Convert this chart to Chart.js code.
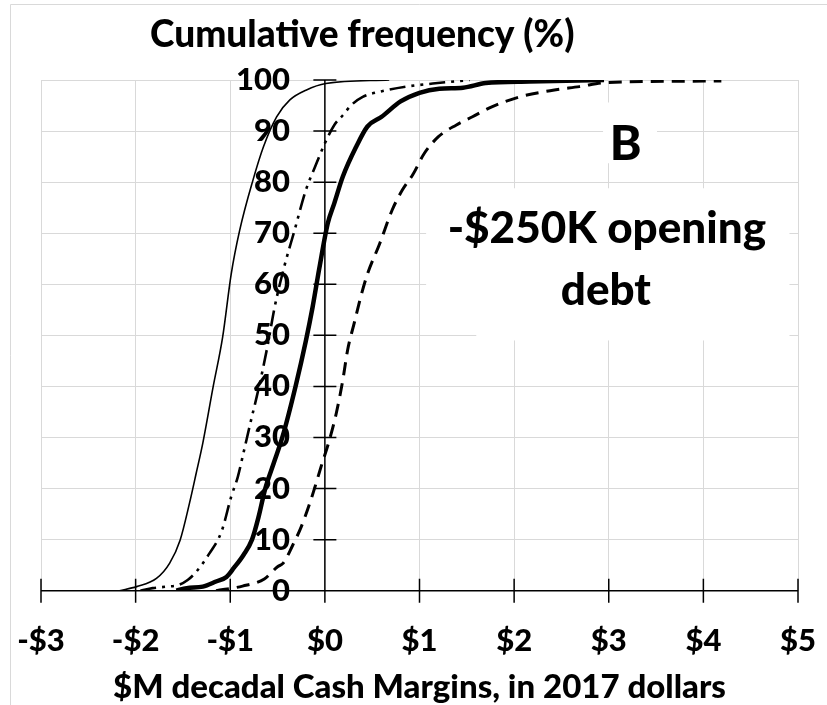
<!DOCTYPE html>
<html>
<head>
<meta charset="utf-8">
<script src="https://cdn.jsdelivr.net/npm/chart.js@4/dist/chart.umd.min.js"></script>
<style>
  html, body { margin: 0; padding: 0; background: #ffffff; }
  #wrap { width: 827px; height: 705px; position: relative; }
</style>
</head>
<body>
<div id="wrap"><canvas id="c" width="827" height="705"></canvas></div>
<script>
// ---- data ----
const xTickValues = [-3, -2, -1, 0, 1, 2, 3, 4, 5];
const xTickLabels = ['-$3', '-$2', '-$1', '$0', '$1', '$2', '$3', '$4', '$5'];
const yTickValues = [0, 10, 20, 30, 40, 50, 60, 70, 80, 90, 100];
const yTickLabels = ['0', '10', '20', '30', '40', '50', '60', '70', '80', '90', '100'];

const chartTitle = 'Cumulative frequency (%)';
const xAxisTitle = '$M decadal Cash Margins, in 2017 dollars';
const panelLabel = 'B';
const panelNote = ['-$250K opening', 'debt'];

// thin solid series
const thinX = [-2.17, -1.99, -1.78, -1.64, -1.53, -1.43, -1.36, -1.29, -1.18, -1.08, -0.99, -0.90, -0.76, -0.65, -0.51, -0.37, -0.20, 0.01, 0.68];
const thinY = [0, 0.8, 2.4, 5.4, 9.9, 17.2, 23, 28.9, 40, 49.7, 62, 70.6, 80.4, 86.9, 92.8, 96.1, 98, 99.3, 100];

// dash-dot-dot series
const dashDotX = [-1.95, -1.82, -1.67, -1.55, -1.45, -1.36, -1.22, -1.09, -0.99, -0.92, -0.86, -0.78, -0.72, -0.66, -0.60, -0.53, -0.43, -0.32, -0.20, -0.11, 0.00, 0.10, 0.19, 0.28, 0.40, 0.58, 0.86, 1.14, 1.53];
const dashDotY = [0, 0.5, 0.8, 1.1, 2.1, 3.7, 7.3, 11.7, 18.4, 22.3, 27, 33.4, 38, 43, 48.5, 55.6, 63.4, 70.6, 78.5, 82.7, 87.6, 91.2, 93.1, 95.1, 96.7, 97.7, 98.7, 99.3, 100];

// thick solid series
const thickX = [-1.57, -1.46, -1.29, -1.15, -1.04, -0.96, -0.86, -0.77, -0.70, -0.63, -0.54, -0.45, -0.31, -0.20, -0.13, -0.06, 0.03, 0.10, 0.19, 0.33, 0.45, 0.60, 0.80, 1.00, 1.21, 1.46, 1.70, 2.16, 2.95];
const thickY = [0, 0.5, 0.8, 1.8, 2.7, 4.5, 7, 10, 14.5, 20, 25, 30, 40, 49, 55.5, 63, 71.9, 75.9, 81.1, 86.9, 90.9, 92.8, 95.8, 97.5, 98.3, 98.5, 99.4, 99.7, 100];

// dashed series
const dashedX = [-1.15, -0.87, -0.64, -0.50, -0.44, -0.34, -0.25, -0.16, -0.11, -0.04, 0.04, 0.12, 0.19, 0.24, 0.31, 0.38, 0.45, 0.58, 0.71, 0.82, 0.93, 1.05, 1.20, 1.39, 1.56, 1.77, 2.06, 2.41, 2.69, 2.97, 4.19];
const dashedY = [0, 0.9, 2.3, 4.7, 5.4, 8.9, 12.5, 17.1, 20, 24.3, 29, 34.7, 41.3, 47.1, 52.4, 57.6, 62, 68, 74.5, 78.5, 81.5, 85.6, 88.9, 91.2, 92.8, 94.8, 96.7, 98, 98.7, 99.5, 99.8];

// ---- build ----
const pts = (xs, ys) => xs.map((x, i) => ({ x: x, y: ys[i] }));
const FONT = 'Lato, "Open Sans", sans-serif';
const W = '900';

const decorPlugin = {
  id: 'decor',
  beforeDraw(chart) {
    const ctx = chart.ctx;
    ctx.save();
    ctx.strokeStyle = '#d9d9d9';
    ctx.lineWidth = 1;
    ctx.beginPath();
    ctx.moveTo(10.5, 710);
    ctx.lineTo(10.5, 4.5);
    ctx.lineTo(830, 4.5);
    ctx.stroke();
    ctx.restore();
  },
  beforeDatasetsDraw(chart) {
    const ctx = chart.ctx;
    const xs = chart.scales.x, ys = chart.scales.y;
    const px = v => xs.getPixelForValue(v);
    const py = v => ys.getPixelForValue(v);
    ctx.save();
    // white text boxes hiding the grid
    ctx.fillStyle = '#ffffff';
    const box = (x0, x1, y0, y1) => ctx.fillRect(px(x0), py(y1), px(x1) - px(x0), py(y0) - py(y1));
    box(2.94, 3.51, 83.7, 95.6);
    box(1.07, 4.91, 52, 78.8);
    box(1.6, 4.91, 49, 52.5);

    // axes crossing at zero, with ticks crossing the axis
    ctx.strokeStyle = '#000000';
    ctx.lineWidth = 1.5;
    ctx.beginPath();
    const x0 = px(0), y0 = py(0);
    ctx.moveTo(px(xTickValues[0]), y0);
    ctx.lineTo(px(xTickValues[xTickValues.length - 1]), y0);
    xTickValues.forEach(v => { ctx.moveTo(px(v), y0 - 12); ctx.lineTo(px(v), y0 + 12); });
    ctx.moveTo(x0, py(yTickValues[0]));
    ctx.lineTo(x0, py(yTickValues[yTickValues.length - 1]));
    yTickValues.forEach(v => { ctx.moveTo(x0 - 11.5, py(v)); ctx.lineTo(x0 + 11.5, py(v)); });
    ctx.stroke();

    // annotations
    ctx.fillStyle = '#000000';
    ctx.textAlign = 'center';
    ctx.textBaseline = 'alphabetic';
    ctx.font = W + ' 48px ' + FONT;
    ctx.fillText(panelLabel, px(3.18), py(84.3));
    ctx.font = W + ' 44px ' + FONT;
    ctx.fillText(panelNote[0], px(2.98), py(68.1));
    ctx.fillText(panelNote[1], px(2.97), py(55.9));

    // chart title
    ctx.font = W + ' 37px ' + FONT;
    ctx.fillText(chartTitle, px(0.395), chart.chartArea.top - 33);
    ctx.restore();
  }
};

new Chart(document.getElementById('c'), {
  type: 'line',
  data: {
    datasets: [
      { label: 'thin', data: pts(thinX, thinY), borderColor: '#000', borderWidth: 1.6, pointRadius: 0, fill: false, cubicInterpolationMode: 'monotone' },
      { label: 'dashdot', data: pts(dashDotX, dashDotY), borderColor: '#000', borderWidth: 2.6, borderDash: [16, 6, 3, 6, 3, 6], pointRadius: 0, fill: false, cubicInterpolationMode: 'monotone' },
      { label: 'thick', data: pts(thickX, thickY), borderColor: '#000', borderWidth: 4.5, pointRadius: 0, fill: false, cubicInterpolationMode: 'monotone' },
      { label: 'dashed', data: pts(dashedX, dashedY), borderColor: '#000', borderWidth: 3, borderDash: [13, 8], pointRadius: 0, fill: false, cubicInterpolationMode: 'monotone' }
    ]
  },
  options: {
    responsive: false,
    animation: false,
    devicePixelRatio: 1,
    layout: { padding: { left: 41, right: 29, top: 80, bottom: 0 } },
    plugins: { legend: { display: false }, title: { display: false }, tooltip: { enabled: false } },
    scales: {
      x: {
        type: 'linear',
        position: 'bottom',
        min: -3, max: 5,
        afterBuildTicks: s => { s.ticks = xTickValues.map(v => ({ value: v })); },
        afterFit: s => { s.paddingLeft = 0; s.paddingRight = 0; s.height = 114.3; },
        grid: { color: '#d9d9d9', lineWidth: 1, drawTicks: false, tickLength: 0 },
        border: { display: false },
        ticks: {
          padding: 32,
          color: '#000',
          font: { family: FONT, size: 31, weight: W, lineHeight: 1.2 },
          callback: (v) => { const i = xTickValues.indexOf(v); return i >= 0 ? xTickLabels[i] : ''; }
        },
        title: {
          display: true, text: xAxisTitle, color: '#000',
          font: { family: FONT, size: 33, weight: W, lineHeight: 1.0 },
          padding: { top: 0, bottom: 1 }
        }
      },
      y: {
        type: 'linear',
        position: { x: -0.37 },
        min: 0, max: 100,
        afterBuildTicks: s => { s.ticks = yTickValues.map(v => ({ value: v })); },
        afterFit: s => { s.paddingTop = 0; s.paddingBottom = 0; },
        grid: { color: '#d9d9d9', lineWidth: 1, drawTicks: false, tickLength: 0 },
        border: { display: false },
        ticks: {
          padding: 0,
          color: '#000',
          font: { family: FONT, size: 31, weight: W, lineHeight: 1.2 },
          callback: (v) => { const i = yTickValues.indexOf(v); return i >= 0 ? yTickLabels[i] : ''; }
        }
      }
    }
  },
  plugins: [decorPlugin]
});
</script>
</body>
</html>
